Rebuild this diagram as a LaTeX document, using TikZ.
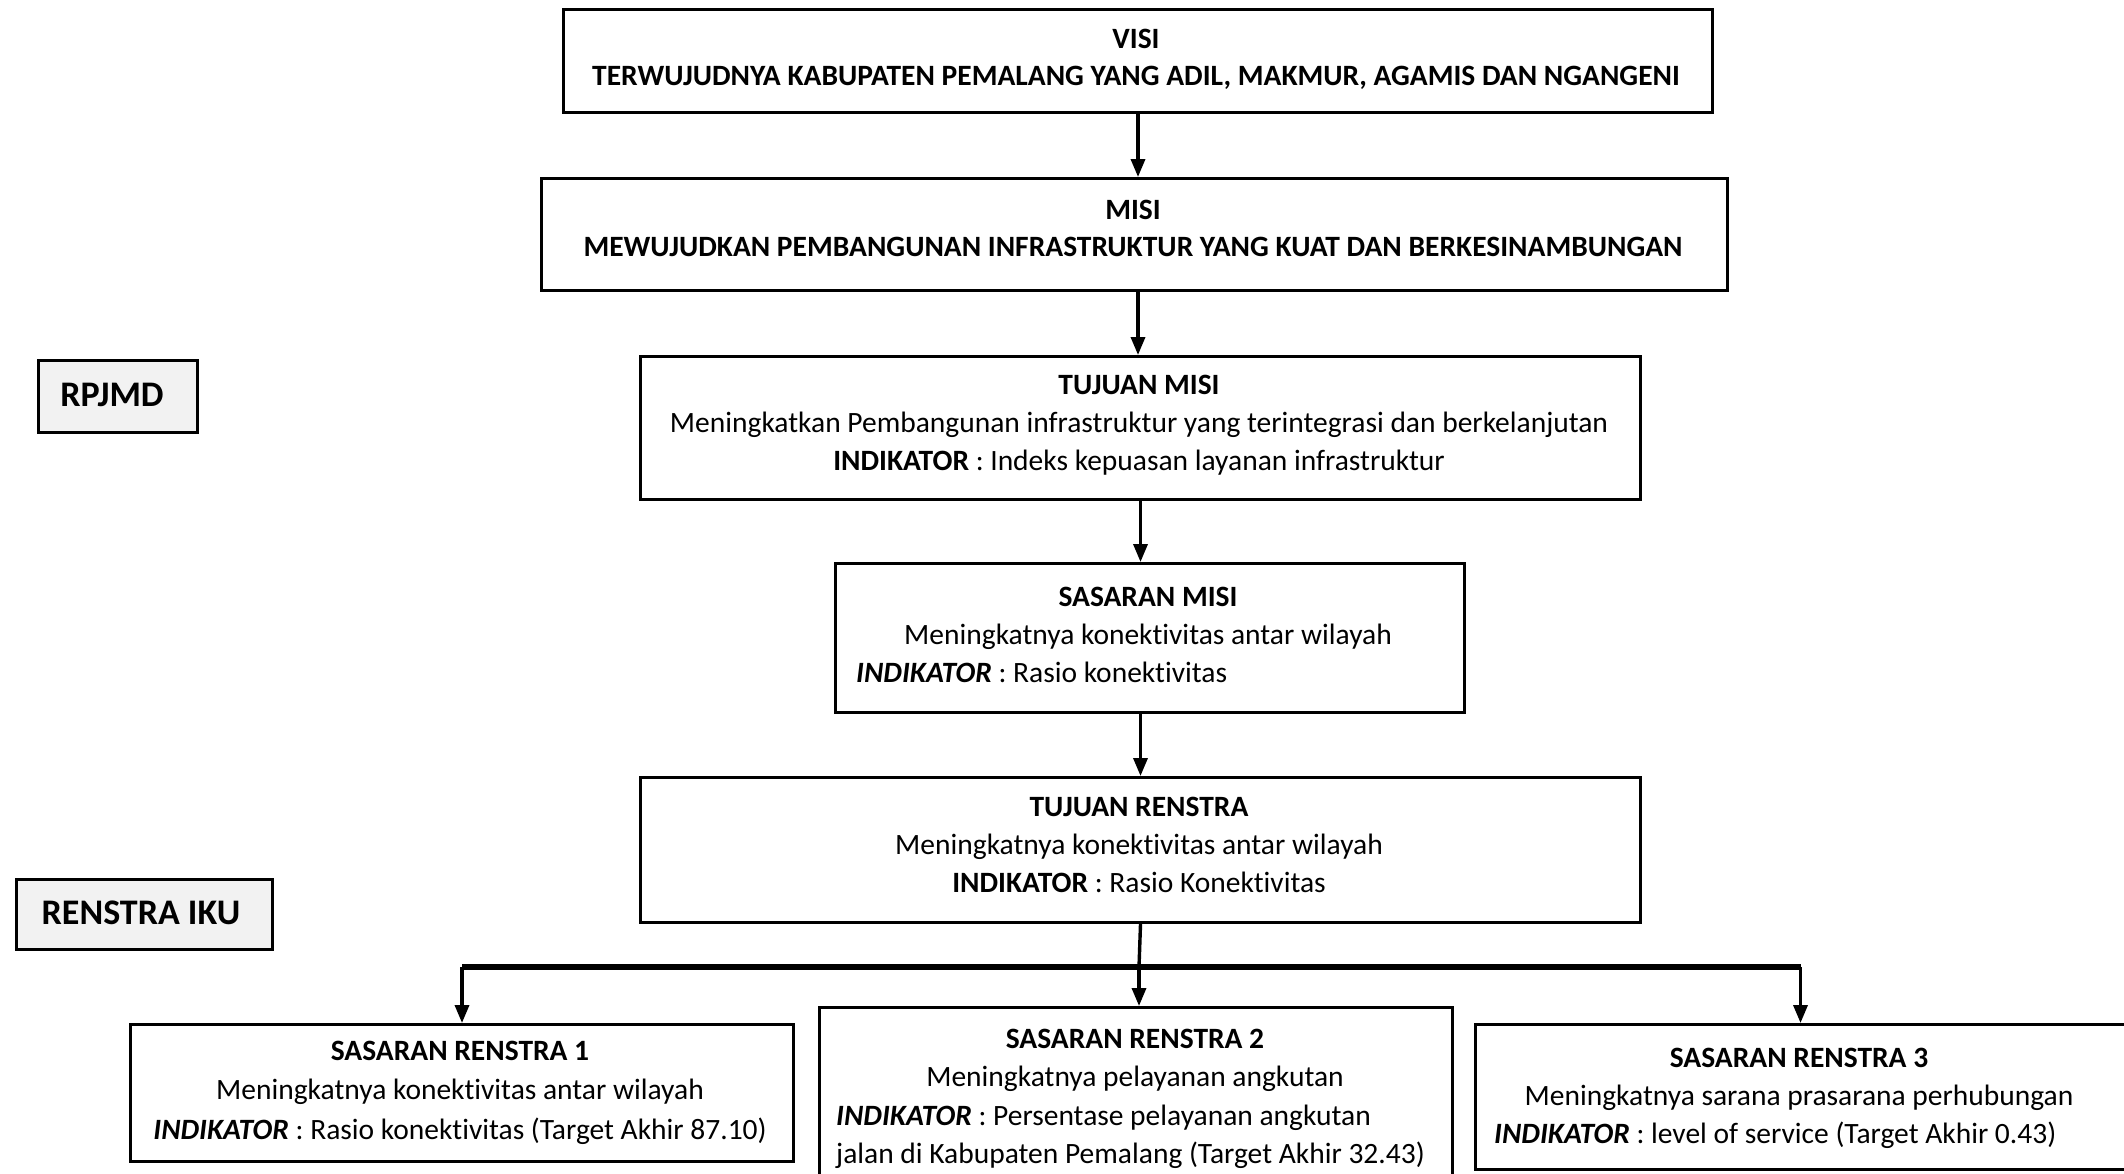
\documentclass[tikz,border=0pt]{standalone}
\usepackage{fontspec}
\setmainfont[Ligatures={NoCommon}]{Carlito}
\usetikzlibrary{arrows.meta}
\definecolor{lightfill}{HTML}{F2F2F2}
\begin{document}
\begin{tikzpicture}[x=1pt,y=-1pt,
  box/.style={draw, line width=3pt, inner sep=0pt, anchor=north west},
  sidebox/.style={box, fill=lightfill},
  txt/.style={font=\fontsize{29.5}{35}\selectfont, inner sep=0pt, anchor=base},
  txtl/.style={txt, anchor=base west},
  bigtxt/.style={font=\fontsize{36}{42}\selectfont\bfseries, inner sep=0pt, anchor=base},
  arr/.style={-{Triangle[length=18pt,width=14pt]}, line width=3.4pt},
  link/.style={line width=3.4pt},
  bus/.style={line width=5.5pt}]
\useasboundingbox (0,0) rectangle (2124,1173);

% boxes
\node[box, minimum width=1149pt, minimum height=103pt] (visi) at (562,8) {};
\node[box, minimum width=1186pt, minimum height=112pt] (misi) at (540,177) {};
\node[box, minimum width=1000pt, minimum height=143pt] (tm) at (639,355) {};
\node[box, minimum width=629pt, minimum height=149pt] (sm) at (834,562) {};
\node[box, minimum width=1000pt, minimum height=145pt] (tr) at (639,776) {};
\node[box, minimum width=663pt, minimum height=137pt] (sr1) at (129,1023) {};
\node[box, minimum width=633pt, minimum height=175pt] (sr2) at (818,1006) {};
\node[box, minimum width=650pt, minimum height=145pt] (sr3) at (1474,1023) {};
\node[sidebox, minimum width=159pt, minimum height=72pt] (rpjmd) at (37,359) {};
\node[sidebox, minimum width=256pt, minimum height=70pt] (riku) at (15,878) {};

% texts
\node[txt] (t1) at (1136,48) {\bfseries VISI};
\node[txt] (t2) at (1136,85) {\bfseries TERWUJUDNYA KABUPATEN PEMALANG YANG ADIL, MAKMUR, AGAMIS DAN NGANGENI};
\node[txt] (t3) at (1133,219) {\bfseries MISI};
\node[txt] (t4) at (1133,256) {\bfseries MEWUJUDKAN PEMBANGUNAN INFRASTRUKTUR YANG KUAT DAN BERKESINAMBUNGAN};
\node[txt] (t5) at (1139,394) {\bfseries TUJUAN MISI};
\node[txt] (t6) at (1139,432) {Meningkatkan Pembangunan infrastruktur yang terintegrasi dan berkelanjutan};
\node[txt] (t7) at (1139,470) {\textbf{INDIKATOR} : Indeks kepuasan layanan infrastruktur};
\node[txt] (t8) at (1148,606) {\bfseries SASARAN MISI};
\node[txt] (t9) at (1148,644) {Meningkatnya konektivitas antar wilayah};
\node[txtl] (t10) at (856,682) {\textbf{\itshape INDIKATOR} : Rasio konektivitas};
\node[txt] (t11) at (1139,816) {\bfseries TUJUAN RENSTRA};
\node[txt] (t12) at (1139,854) {Meningkatnya konektivitas antar wilayah};
\node[txt] (t13) at (1139,892) {\textbf{INDIKATOR} : Rasio Konektivitas};
\node[txt] (t14) at (460,1060) {\bfseries SASARAN RENSTRA 1};
\node[txt] (t15) at (460,1099) {Meningkatnya konektivitas antar wilayah};
\node[txt] (t16) at (460,1139) {\textbf{\itshape INDIKATOR} : Rasio konektivitas (Target Akhir 87.10)};
\node[txt] (t17) at (1135,1048) {\bfseries SASARAN RENSTRA 2};
\node[txt] (t18) at (1135,1086) {Meningkatnya pelayanan angkutan};
\node[txtl] (t19) at (836,1125) {\textbf{\itshape INDIKATOR} : Persentase pelayanan angkutan};
\node[txtl] (t20) at (836,1163) {jalan di Kabupaten Pemalang (Target Akhir 32.43)};
\node[txt] (t21) at (1799,1067) {\bfseries SASARAN RENSTRA 3};
\node[txt] (t22) at (1799,1105) {Meningkatnya sarana prasarana perhubungan};
\node[txtl] (t23) at (1494,1143) {\textbf{\itshape INDIKATOR} : level of service (Target Akhir 0.43)};
\node[bigtxt] (t24) at (112,406) {RPJMD};
\node[bigtxt] (t25) at (141,924) {RENSTRA IKU};

% connectors
\draw[arr] (visi.south) -- (visi.south |- misi.north);
\draw[arr] (visi.south |- misi.south) -- (visi.south |- tm.north);
\draw[arr] (tm.south) -- (tm.south |- sm.north);
\draw[arr] (tm.south |- sm.south) -- (tm.south |- tr.north);
\coordinate (j) at (1139,967);
\draw[link] (tr.south) -- (j);
\draw[bus] (sr1.north |- j) -- (sr3.north |- j);
\draw[arr] (j) -- (j |- sr2.north);
\draw[arr] (sr1.north |- j) -- (sr1.north);
\draw[arr] (sr3.north |- j) -- (sr3.north);
\end{tikzpicture}
\end{document}
